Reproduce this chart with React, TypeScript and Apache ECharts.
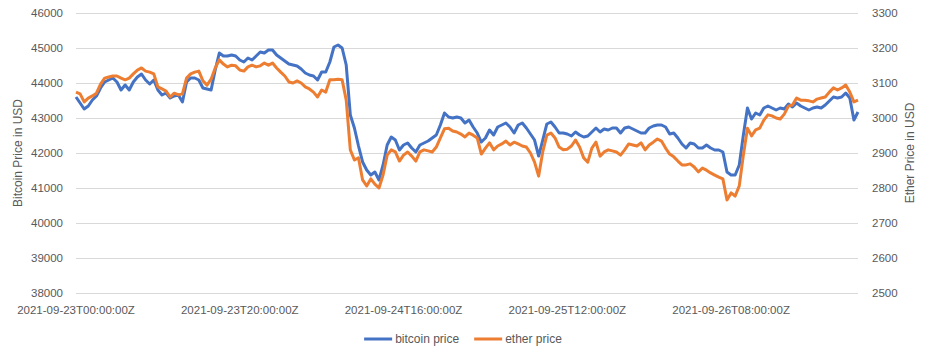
import React, { useEffect, useRef } from "react";
import * as echarts from "echarts";

const START_UTC = Date.UTC(2021, 8, 23, 0, 0, 0);
const STEP_MINUTES = 30;

const bitcoinPrice: number[] = [
  43600, 43429, 43257, 43343, 43514, 43629, 43857, 44029, 44086, 44143,
  44029, 43800, 43943, 43800, 44029, 44171, 44257, 44086, 43971, 44086,
  43800, 43657, 43714, 43571, 43629, 43657, 43457, 44029, 44143, 44143,
  44086, 43857, 43829, 43800, 44371, 44857, 44771, 44771, 44800, 44771,
  44657, 44600, 44714, 44657, 44771, 44886, 44857, 44943, 44943, 44800,
  44714, 44629, 44543, 44514, 44486, 44400, 44286, 44229, 44200, 44086,
  44314, 44314, 44600, 45029, 45086, 45000, 44514, 43086, 42714, 42200,
  41743, 41514, 41371, 41457, 41229, 41657, 42229, 42457, 42371, 42086,
  42229, 42286, 42143, 42029, 42229, 42286, 42343, 42429, 42514, 42800,
  43143, 43029, 43000, 43029, 43000, 42857, 42943, 42743, 42571, 42314,
  42429, 42657, 42514, 42743, 42800, 42857, 42743, 42571, 42800, 42857,
  42714, 42543, 42371, 41914, 42371, 42829, 42886, 42743, 42571, 42571,
  42543, 42486, 42600, 42514, 42457, 42486, 42600, 42714, 42600, 42686,
  42657, 42714, 42714, 42571, 42714, 42743, 42686, 42629, 42571, 42571,
  42714, 42771, 42800, 42800, 42743, 42543, 42571, 42429, 42257, 42143,
  42286, 42257, 42143, 42143, 42229, 42143, 42086, 42086, 42029, 41457,
  41371, 41371, 41657, 42514, 43286, 42971, 43143, 43086, 43286, 43343,
  43286, 43229, 43286, 43257, 43400, 43314, 43429, 43343, 43286, 43229,
  43286, 43314, 43286, 43371, 43486, 43600, 43571, 43600, 43714, 43571,
  42943, 43171,
];

const etherPrice: number[] = [
  3074, 3069, 3046, 3057, 3063, 3071, 3097, 3114, 3117, 3120,
  3120, 3114, 3109, 3114, 3126, 3137, 3143, 3134, 3131, 3126,
  3089, 3083, 3077, 3060, 3071, 3066, 3069, 3114, 3126, 3131,
  3134, 3106, 3094, 3111, 3143, 3166, 3154, 3146, 3151, 3149,
  3137, 3134, 3146, 3151, 3146, 3149, 3157, 3151, 3157, 3143,
  3131, 3120, 3103, 3100, 3106, 3100, 3089, 3083, 3074, 3060,
  3080, 3074, 3109, 3109, 3111, 3109, 3051, 2909, 2880, 2886,
  2823, 2806, 2826, 2811, 2800, 2837, 2894, 2909, 2903, 2877,
  2894, 2903, 2891, 2877, 2903, 2909, 2906, 2903, 2917, 2943,
  2969, 2971, 2963, 2960, 2954, 2946, 2957, 2951, 2943, 2897,
  2914, 2929, 2909, 2920, 2926, 2934, 2923, 2931, 2926, 2920,
  2917, 2900, 2874, 2834, 2903, 2951, 2957, 2943, 2917, 2909,
  2911, 2920, 2937, 2917, 2886, 2874, 2914, 2931, 2891, 2903,
  2909, 2906, 2903, 2894, 2909, 2926, 2923, 2920, 2929, 2909,
  2923, 2931, 2940, 2934, 2914, 2897, 2889, 2877, 2866, 2866,
  2869, 2860, 2846, 2857, 2851, 2843, 2837, 2831, 2826, 2766,
  2786, 2777, 2806, 2894, 2971, 2949, 2966, 2971, 2994, 3009,
  3006, 3000, 2997, 3011, 3034, 3037, 3057, 3051, 3051, 3049,
  3046, 3054, 3057, 3060, 3074, 3086, 3080, 3086, 3094, 3074,
  3046, 3051,
];

const timestamps: string[] = bitcoinPrice.map((_, i) =>
  new Date(START_UTC + i * STEP_MINUTES * 60000).toISOString().replace(".000Z", "Z")
);

const seriesNames = ["bitcoin price", "ether price"];
const axisNames = ["Bitcoin Price in USD", "Ether Price in USD"];

const FONT = "Liberation Sans";
const TEXT = "#595959";

export default function App() {
  const ref = useRef<HTMLDivElement>(null);
  useEffect(() => {
    if (!ref.current) return;
    const chart = echarts.init(ref.current, null, { renderer: "svg" });
    chart.setOption({
      animation: false,
      backgroundColor: "#ffffff",
      textStyle: { fontFamily: FONT },
      grid: { left: 76, right: 68, top: 13, bottom: 59 },
      legend: {
        data: seriesNames.map((n) => ({ name: n, icon: "rect" })),
        top: 328,
        left: "center",
        itemWidth: 28,
        itemHeight: 3,
        itemGap: 15,
        textStyle: { color: TEXT, fontSize: 12, fontFamily: FONT, padding: [0, 0, 0, -2] },
      },
      xAxis: {
        type: "category",
        data: timestamps,
        boundaryGap: false,
        axisLine: { show: false },
        axisTick: { show: false },
        axisLabel: {
          interval: 39,
          color: TEXT,
          fontSize: 11.5,
          fontFamily: FONT,
          margin: 11,
        },
        splitLine: { show: false },
      },
      yAxis: [
        {
          type: "value",
          min: 38000,
          max: 46000,
          interval: 1000,
          name: axisNames[0],
          nameLocation: "middle",
          nameRotate: 90,
          nameGap: 52,
          nameMoveOverlap: false,
          nameTextStyle: { color: TEXT, fontSize: 12, fontFamily: FONT },
          axisLine: { show: false },
          axisTick: { show: false },
          axisLabel: {
            color: TEXT,
            fontSize: 11.5,
            fontFamily: FONT,
            margin: 13,
            formatter: (v: number) => String(v),
          },
          splitLine: { lineStyle: { color: "#d9d9d9", width: 1 } },
        },
        {
          type: "value",
          min: 2500,
          max: 3300,
          interval: 100,
          position: "right",
          name: axisNames[1],
          nameLocation: "middle",
          nameRotate: 90,
          nameGap: 46,
          nameMoveOverlap: false,
          nameTextStyle: { color: TEXT, fontSize: 12, fontFamily: FONT },
          axisLine: { show: false },
          axisTick: { show: false },
          axisLabel: {
            color: TEXT,
            fontSize: 11.5,
            fontFamily: FONT,
            margin: 14,
            formatter: (v: number) => String(v),
          },
          splitLine: { show: false },
        },
      ],
      series: [
        {
          name: seriesNames[0],
          type: "line",
          yAxisIndex: 0,
          data: bitcoinPrice,
          showSymbol: false,
          symbol: "none",
          color: "#4472c4",
          lineStyle: { color: "#4472c4", width: 3, join: "round" },
        },
        {
          name: seriesNames[1],
          type: "line",
          yAxisIndex: 1,
          data: etherPrice,
          showSymbol: false,
          symbol: "none",
          color: "#ed7d31",
          lineStyle: { color: "#ed7d31", width: 3, join: "round" },
        },
      ],
    });
    return () => chart.dispose();
  }, []);
  return (
    <div
      ref={ref}
      style={{ position: "fixed", left: 0, top: 0, width: 926, height: 352, background: "#fff" }}
    />
  );
}
